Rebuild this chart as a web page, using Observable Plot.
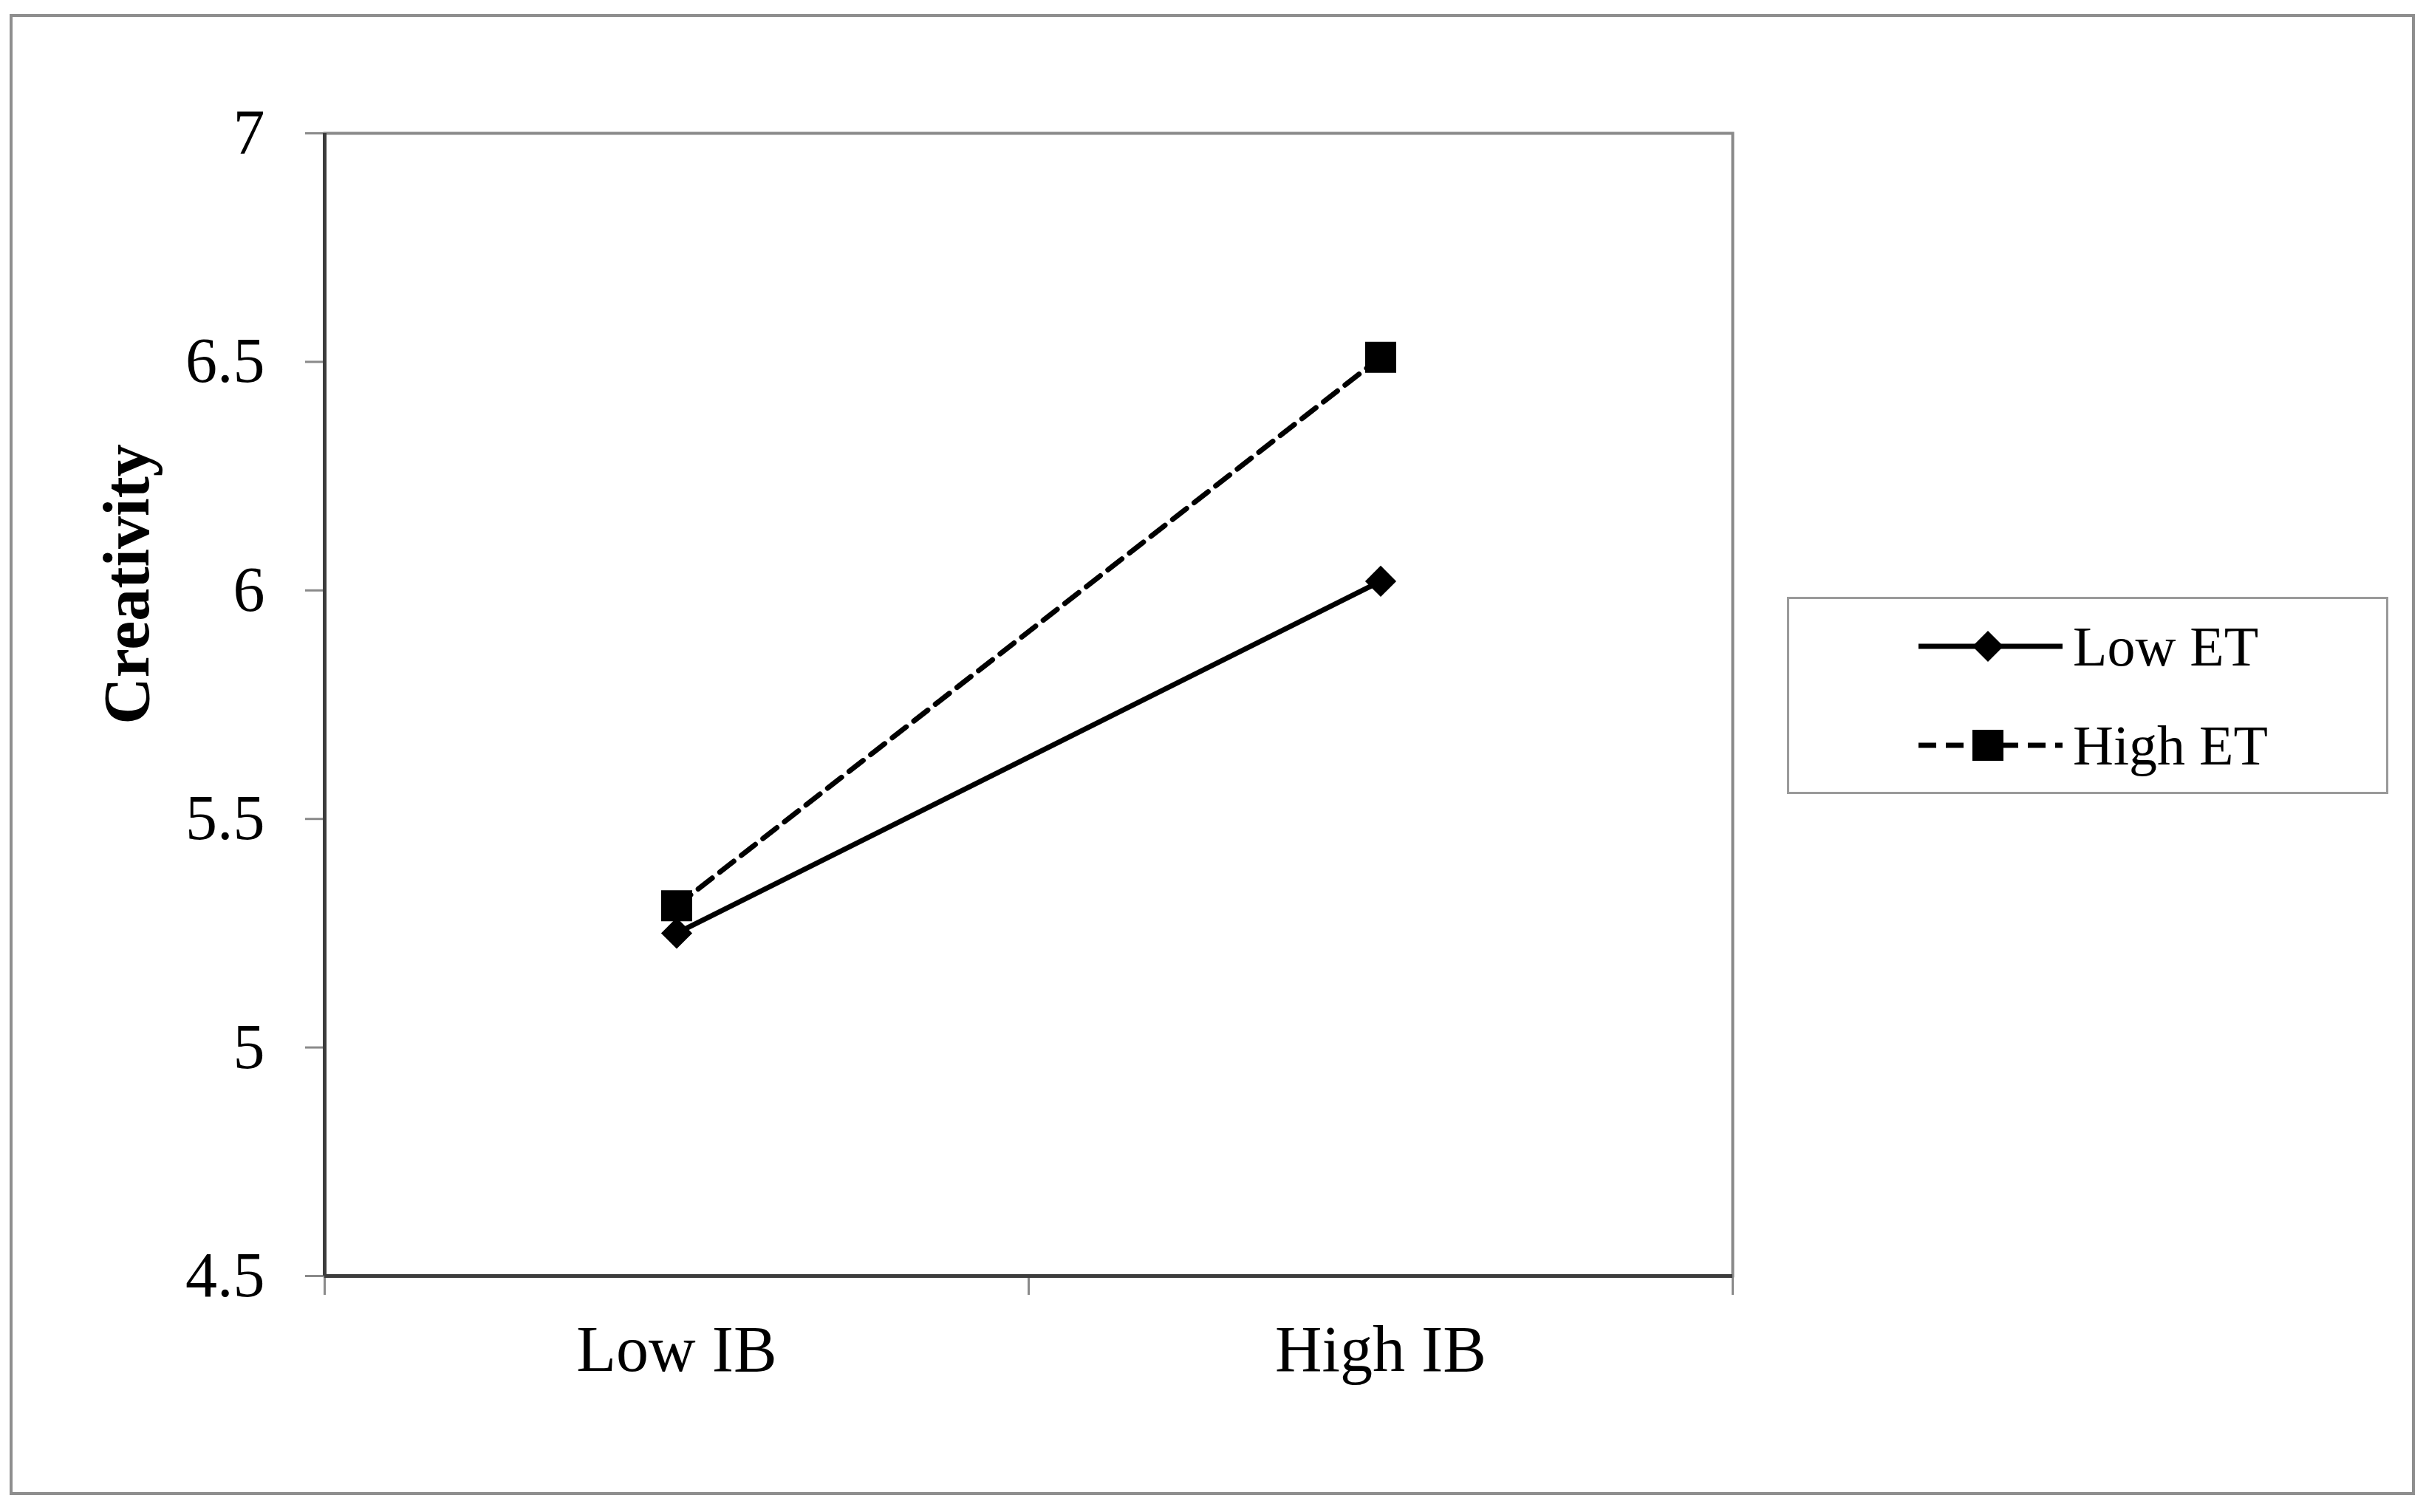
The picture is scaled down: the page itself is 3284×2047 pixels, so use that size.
<!DOCTYPE html>
<html>
<head>
<meta charset="utf-8">
<script src="https://cdn.jsdelivr.net/npm/d3@7"></script>
<script src="https://cdn.jsdelivr.net/npm/@observablehq/plot@0.6"></script>
<style>
  html, body { margin: 0; padding: 0; background: #fff; }
  body { position: relative; width: 3284px; height: 2047px; overflow: hidden; font-family: "Liberation Serif", "Times New Roman", serif; }
  #chart svg { display: block; }
  #outer { position: absolute; left: 13px; top: 19px; width: 3256px; height: 2005px; box-sizing: border-box; border: 4px solid #8e8e8e; pointer-events: none; }
  #legend { position: absolute; left: 2419px; top: 808px; width: 814px; height: 267px; box-sizing: border-box; border: 3px solid #9a9a9a; background: #fff; }
</style>
</head>
<body>
<div id="chart"></div>
<div id="outer"></div>
<div id="legend"></div>
<script>
// ---- data ----
const categories = ["Low IB", "High IB"];
const seriesNames = ["Low ET", "High ET"];
const lowET = [5.25, 6.02];
const highET = [5.31, 6.51];
const yTicks = [4.5, 5, 5.5, 6, 6.5, 7];
const yLabel = "Creativity";

// ---- build table ----
const rows = [];
categories.forEach((c, i) => {
  rows.push({cat: c, pos: i + 0.5, series: seriesNames[0], value: lowET[i]});
  rows.push({cat: c, pos: i + 0.5, series: seriesNames[1], value: highET[i]});
});
const lowRows = rows.filter(d => d.series === seriesNames[0]);
const highRows = rows.filter(d => d.series === seriesNames[1]);
const boundaries = d3.range(categories.length + 1);
const centers = categories.map((c, i) => i + 0.5);

const chart = Plot.plot({
  width: 3284,
  height: 2047,
  marginLeft: 439,
  marginRight: 939,
  marginTop: 180,
  marginBottom: 320,
  style: {fontFamily: "Liberation Serif, Times New Roman, serif", fontSize: "86px", background: "transparent", color: "black"},
  x: {type: "linear", domain: [0, categories.length], axis: null},
  y: {domain: [yTicks[0], yTicks[yTicks.length - 1]], axis: null},
  marks: [
    Plot.frame({stroke: "#8a8a8a", strokeWidth: 4}),
    Plot.axisY({ticks: yTicks, tickSize: 26, tickPadding: 55, tickFormat: d => String(d), stroke: "#8a8a8a", strokeWidth: 3, fill: "black", label: null, fontSize: 86}),
    Plot.axisX({ticks: boundaries, tickSize: 26, tickFormat: () => "", stroke: "#8a8a8a", strokeWidth: 3, label: null}),
    Plot.axisX({ticks: centers, tickSize: 0, tickPadding: 66, tickFormat: d => categories[Math.round(d - 0.5)], fill: "black", label: null, fontSize: 88}),
    Plot.ruleX([0], {stroke: "#3c3c3c", strokeWidth: 5}),
    Plot.ruleY([yTicks[0]], {stroke: "#3c3c3c", strokeWidth: 5}),
    Plot.line(lowRows, {x: "pos", y: "value", stroke: "black", strokeWidth: 7}),
    Plot.line(highRows, {x: "pos", y: "value", stroke: "black", strokeWidth: 7, strokeDasharray: "24,13"}),
    Plot.dot(lowRows, {x: "pos", y: "value", symbol: "diamond2", r: 19, fill: "black", stroke: "none"}),
    Plot.dot(highRows, {x: "pos", y: "value", symbol: "square", r: 23.7, fill: "black", stroke: "none"}),
    Plot.text([yLabel], {text: d => d, frameAnchor: "left", textAnchor: "middle", rotate: -90, dx: -267, dy: -163, fontWeight: "bold", fontSize: 88, fill: "black"})
  ]
});
document.getElementById("chart").appendChild(chart);

// ---- legend ----
const lg = d3.select("#legend").append("svg")
  .attr("width", 808).attr("height", 261)
  .style("position", "absolute").style("left", "0px").style("top", "0px");
const legendItems = [
  {name: seriesNames[0], dash: null, sym: d3.symbolDiamond2, size: 1124},
  {name: seriesNames[1], dash: "24,13", sym: d3.symbolSquare, size: 1764}
];
legendItems.forEach((it, i) => {
  const cy = 64 + i * 134;
  const g = lg.append("g");
  g.append("line").attr("x1", 175).attr("x2", 370).attr("y1", cy).attr("y2", cy)
    .attr("stroke", "black").attr("stroke-width", 7)
    .attr("stroke-dasharray", it.dash);
  g.append("path").attr("d", d3.symbol(it.sym, it.size)()).attr("transform", `translate(269,${cy})`).attr("fill", "black");
  g.append("text").attr("x", 384).attr("y", cy + 26).text(it.name)
    .attr("font-family", "Liberation Serif, Times New Roman, serif").attr("font-size", 76).attr("fill", "black");
});
</script>
</body>
</html>
